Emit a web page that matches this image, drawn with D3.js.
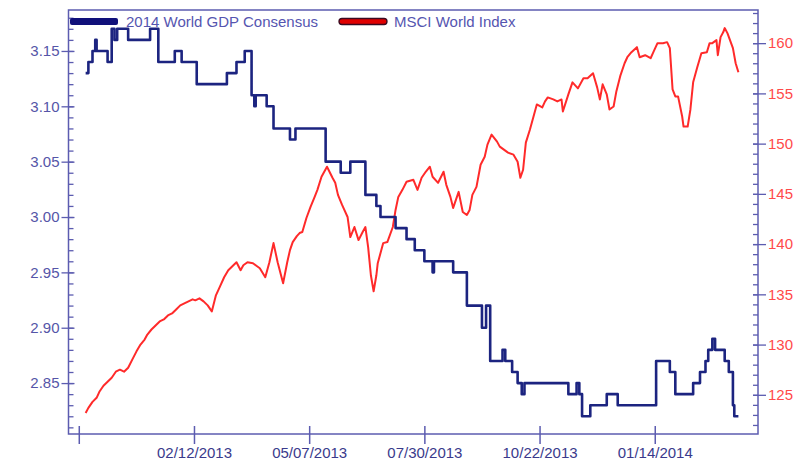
<!DOCTYPE html>
<html><head><meta charset="utf-8">
<script src="https://cdn.jsdelivr.net/npm/d3@7/dist/d3.min.js"></script>
<style>
body{margin:0;background:#fff;}
svg text{font-family:"Liberation Sans",Arial,sans-serif;}
</style></head>
<body><svg id="chart" width="800" height="468"></svg>
<script>
// ---- data ----
const seriesNames = ["2014 World GDP Consensus", "MSCI World Index"];
const gdpDates = ["2012-11-25","2012-11-27","2012-11-30","2012-12-02","2012-12-03","2012-12-11","2012-12-14","2012-12-16","2012-12-18","2012-12-26","2013-01-11","2013-01-17","2013-01-29","2013-02-03","2013-02-14","2013-03-08","2013-03-15","2013-03-21","2013-03-26","2013-03-28","2013-03-29","2013-04-06","2013-04-11","2013-04-23","2013-04-27","2013-05-19","2013-05-30","2013-06-06","2013-06-17","2013-06-25","2013-06-28","2013-07-09","2013-07-17","2013-07-23","2013-07-30","2013-08-05","2013-08-06","2013-08-20","2013-08-30","2013-09-10","2013-09-13","2013-09-16","2013-09-25","2013-09-27","2013-10-02","2013-10-06","2013-10-09","2013-10-11","2013-11-12","2013-11-18","2013-11-20","2013-11-22","2013-11-28","2013-12-10","2013-12-18","2014-01-15","2014-01-25","2014-01-29","2014-02-11","2014-02-16","2014-02-20","2014-02-22","2014-02-25","2014-02-27","2014-03-06","2014-03-09","2014-03-12","2014-03-13","2014-03-16"];
const gdpValues = [3.13,3.14,3.15,3.16,3.15,3.14,3.17,3.16,3.17,3.16,3.17,3.14,3.15,3.14,3.12,3.13,3.14,3.15,3.11,3.10,3.11,3.10,3.08,3.07,3.08,3.05,3.04,3.05,3.02,3.01,3.00,2.99,2.98,2.97,2.96,2.95,2.96,2.95,2.92,2.90,2.92,2.87,2.88,2.87,2.86,2.85,2.84,2.85,2.84,2.85,2.84,2.82,2.83,2.84,2.83,2.87,2.86,2.84,2.85,2.86,2.87,2.88,2.89,2.88,2.87,2.86,2.83,2.82,2.82];

const msciDates = ["2012-11-25","2012-11-27","2012-11-30","2012-12-03","2012-12-05","2012-12-08","2012-12-11","2012-12-14","2012-12-17","2012-12-20","2012-12-23","2012-12-26","2012-12-29","2013-01-01","2013-01-04","2013-01-07","2013-01-09","2013-01-12","2013-01-15","2013-01-18","2013-01-21","2013-01-24","2013-01-27","2013-01-30","2013-02-02","2013-02-05","2013-02-08","2013-02-11","2013-02-13","2013-02-16","2013-02-19","2013-02-22","2013-02-25","2013-02-28","2013-03-03","2013-03-06","2013-03-09","2013-03-12","2013-03-15","2013-03-18","2013-03-20","2013-03-23","2013-03-27","2013-03-30","2013-04-01","2013-04-05","2013-04-08","2013-04-11","2013-04-14","2013-04-18","2013-04-21","2013-04-23","2013-04-25","2013-04-28","2013-04-30","2013-05-02","2013-05-05","2013-05-08","2013-05-11","2013-05-13","2013-05-16","2013-05-20","2013-05-24","2013-05-26","2013-05-28","2013-05-31","2013-06-04","2013-06-06","2013-06-09","2013-06-12","2013-06-15","2013-06-17","2013-06-19","2013-06-21","2013-06-23","2013-06-25","2013-06-26","2013-06-30","2013-07-03","2013-07-07","2013-07-09","2013-07-11","2013-07-14","2013-07-17","2013-07-22","2013-07-25","2013-07-28","2013-07-31","2013-08-03","2013-08-05","2013-08-09","2013-08-13","2013-08-15","2013-08-18","2013-08-20","2013-08-24","2013-08-27","2013-08-30","2013-09-01","2013-09-03","2013-09-06","2013-09-09","2013-09-12","2013-09-14","2013-09-17","2013-09-21","2013-09-23","2013-09-26","2013-09-29","2013-10-03","2013-10-06","2013-10-08","2013-10-10","2013-10-12","2013-10-15","2013-10-18","2013-10-20","2013-10-24","2013-10-26","2013-10-28","2013-11-01","2013-11-04","2013-11-07","2013-11-08","2013-11-12","2013-11-15","2013-11-19","2013-11-23","2013-11-26","2013-11-30","2013-12-03","2013-12-05","2013-12-07","2013-12-10","2013-12-12","2013-12-15","2013-12-17","2013-12-20","2013-12-23","2013-12-25","2013-12-28","2014-01-01","2014-01-03","2014-01-07","2014-01-11","2014-01-13","2014-01-16","2014-01-20","2014-01-23","2014-01-25","2014-01-27","2014-01-29","2014-01-31","2014-02-03","2014-02-04","2014-02-07","2014-02-09","2014-02-11","2014-02-14","2014-02-17","2014-02-21","2014-02-23","2014-02-25","2014-02-28","2014-03-01","2014-03-03","2014-03-05","2014-03-06","2014-03-08","2014-03-12","2014-03-14","2014-03-16"];
const msciValues = [123.2,123.7,124.3,124.7,125.3,125.9,126.3,126.7,127.3,127.5,127.3,127.7,128.5,129.3,130.0,130.5,131.0,131.5,131.9,132.3,132.5,132.9,133.1,133.5,133.9,134.1,134.3,134.5,134.4,134.6,134.3,133.9,133.3,134.9,135.8,136.7,137.4,137.8,138.2,137.4,137.9,138.2,138.1,137.8,137.6,136.7,138.2,140.1,138.2,136.1,138.2,139.4,140.2,140.8,141.1,141.2,142.6,143.7,144.7,145.4,146.7,147.7,146.6,146.1,144.9,143.9,142.7,140.7,141.7,140.4,141.2,141.7,139.7,136.9,135.3,136.9,138.1,140.1,140.2,141.7,143.4,144.7,145.4,146.2,146.4,145.4,146.6,147.2,147.7,146.7,146.1,147.2,145.9,144.7,143.6,145.2,143.2,142.9,143.4,144.9,145.7,147.9,148.7,149.9,150.9,150.2,149.7,149.4,149.1,148.9,148.2,146.6,147.4,150.1,151.4,152.9,153.9,153.6,154.2,154.6,154.4,154.2,154.4,153.2,154.9,156.1,155.5,156.5,156.5,157.0,155.6,154.4,155.9,154.9,153.4,153.7,155.2,156.8,158.0,158.6,159.1,159.6,158.6,158.8,158.5,159.1,160.0,160.0,160.1,159.5,155.4,154.7,154.7,152.7,151.7,151.7,153.4,156.1,157.6,159.0,159.1,160.0,160.0,160.3,158.8,160.6,161.1,161.5,161.0,159.5,158.0,157.1];

const xDomain = ["2012-11-12T12:00", "2014-03-30T07:00"];
const xTickDates = ["2012-11-20","2013-02-12","2013-05-07","2013-07-30","2013-10-22","2014-01-14"];
const xTickLabels = ["","02/12/2013","05/07/2013","07/30/2013","10/22/2013","01/14/2014"];
const leftDomain = [2.804, 3.187];
const leftMajor = [2.85,2.90,2.95,3.00,3.05,3.10,3.15];
const leftMinorStep = 0.01;
const rightDomain = [121.1, 163.3];
const rightMajor = [125,130,135,140,145,150,155,160];
const rightMinorStep = 1;

// ---- layout ----
const L = 68.5, R = 758, T = 10, B = 434;
const axisColor = "#5c5cb0";
const gdpColor = "#1c2480";
const msciColor = "#ff2a2a";

const parseD = d3.timeParse("%Y-%m-%d");
const parseDT = d3.timeParse("%Y-%m-%dT%H:%M");
const svg = d3.select("#chart");

const x = d3.scaleTime().domain(xDomain.map(parseDT)).range([L, R]);
const yL = d3.scaleLinear().domain(leftDomain).range([B, T]);
const yR = d3.scaleLinear().domain(rightDomain).range([B, T]);

const gdp = gdpDates.map((d,i)=>({date:parseD(d), v:gdpValues[i]}));
const msci = msciDates.map((d,i)=>({date:parseD(d), v:msciValues[i]}));

// frame
svg.append("rect").attr("x",L).attr("y",T).attr("width",R-L).attr("height",B-T)
  .attr("fill","none").attr("stroke",axisColor).attr("stroke-width",1.5);

// left axis
const leftMinor = d3.range(Math.ceil(leftDomain[0]/leftMinorStep), Math.floor(leftDomain[1]/leftMinorStep)+1).map(k=>+(k*leftMinorStep).toFixed(2));
const gl = svg.append("g").attr("transform",`translate(${L},0)`);
gl.append("g").call(d3.axisRight(yL).tickValues(leftMinor).tickSize(5).tickFormat(""))
  .call(g=>{g.select(".domain").remove(); g.selectAll("line").attr("stroke",axisColor).attr("stroke-width",1.3);});
gl.append("g").call(d3.axisLeft(yL).tickValues(leftMajor).tickSize(7).tickPadding(2).tickFormat(d3.format(".2f")))
  .call(g=>{g.select(".domain").remove();
    g.selectAll("line").attr("stroke",axisColor).attr("stroke-width",1.3).attr("x2",-7).attr("x1",6);
    g.selectAll("text").attr("fill","#5555a8").style("font-size","15px");});

// right axis
const rightMinor = d3.range(Math.ceil(rightDomain[0]), Math.floor(rightDomain[1])+1, rightMinorStep);
const gr = svg.append("g").attr("transform",`translate(${R},0)`);
gr.append("g").call(d3.axisLeft(yR).tickValues(rightMinor).tickSize(5).tickFormat(""))
  .call(g=>{g.select(".domain").remove(); g.selectAll("line").attr("stroke",axisColor).attr("stroke-width",1.3);});
gr.append("g").call(d3.axisRight(yR).tickValues(rightMajor).tickSize(8).tickPadding(2).tickFormat(d3.format("d")))
  .call(g=>{g.select(".domain").remove();
    g.selectAll("line").attr("stroke",axisColor).attr("stroke-width",1.3).attr("x1",-5).attr("x2",8);
    g.selectAll("text").attr("fill","#ff4a4a").style("font-size","15px");});

// bottom axis
const gb = svg.append("g").attr("transform",`translate(0,${B})`);
gb.call(d3.axisBottom(x).tickValues(xTickDates.map(parseD)).tickSize(10).tickPadding(3)
    .tickFormat((d,i)=>xTickLabels[i]))
  .call(g=>{g.select(".domain").remove();
    g.selectAll("line").attr("stroke",axisColor).attr("stroke-width",1.5).attr("y1",-8);
    g.selectAll("text").attr("fill","#3a3a8c").style("font-size","15px");});

// lines
const lineL = d3.line().x(d=>x(d.date)).y(d=>yL(d.v)).curve(d3.curveStepAfter);
const lineR = d3.line().x(d=>x(d.date)).y(d=>yR(d.v));
svg.append("path").datum(msci).attr("d",lineR).attr("fill","none")
  .attr("stroke",msciColor).attr("stroke-width",2).attr("stroke-linejoin","round");
svg.append("path").datum(gdp).attr("d",lineL).attr("fill","none")
  .attr("stroke",gdpColor).attr("stroke-width",2.6).attr("stroke-linejoin","round");

// legend
const lg = svg.append("g");
lg.append("rect").attr("x",70).attr("y",18).attr("width",48).attr("height",7).attr("rx",2)
  .attr("fill","#10107a");
lg.append("text").attr("x",126).attr("y",27).text(seriesNames[0])
  .attr("fill","#5555b0").style("font-size","15px");
lg.append("rect").attr("x",339).attr("y",18.5).attr("width",48).attr("height",6).attr("rx",3)
  .attr("fill","#e00000").attr("stroke","#3a0a20").attr("stroke-width",1.3);
lg.append("text").attr("x",394).attr("y",27).text(seriesNames[1])
  .attr("fill","#5555b0").style("font-size","15px");
</script></body></html>
